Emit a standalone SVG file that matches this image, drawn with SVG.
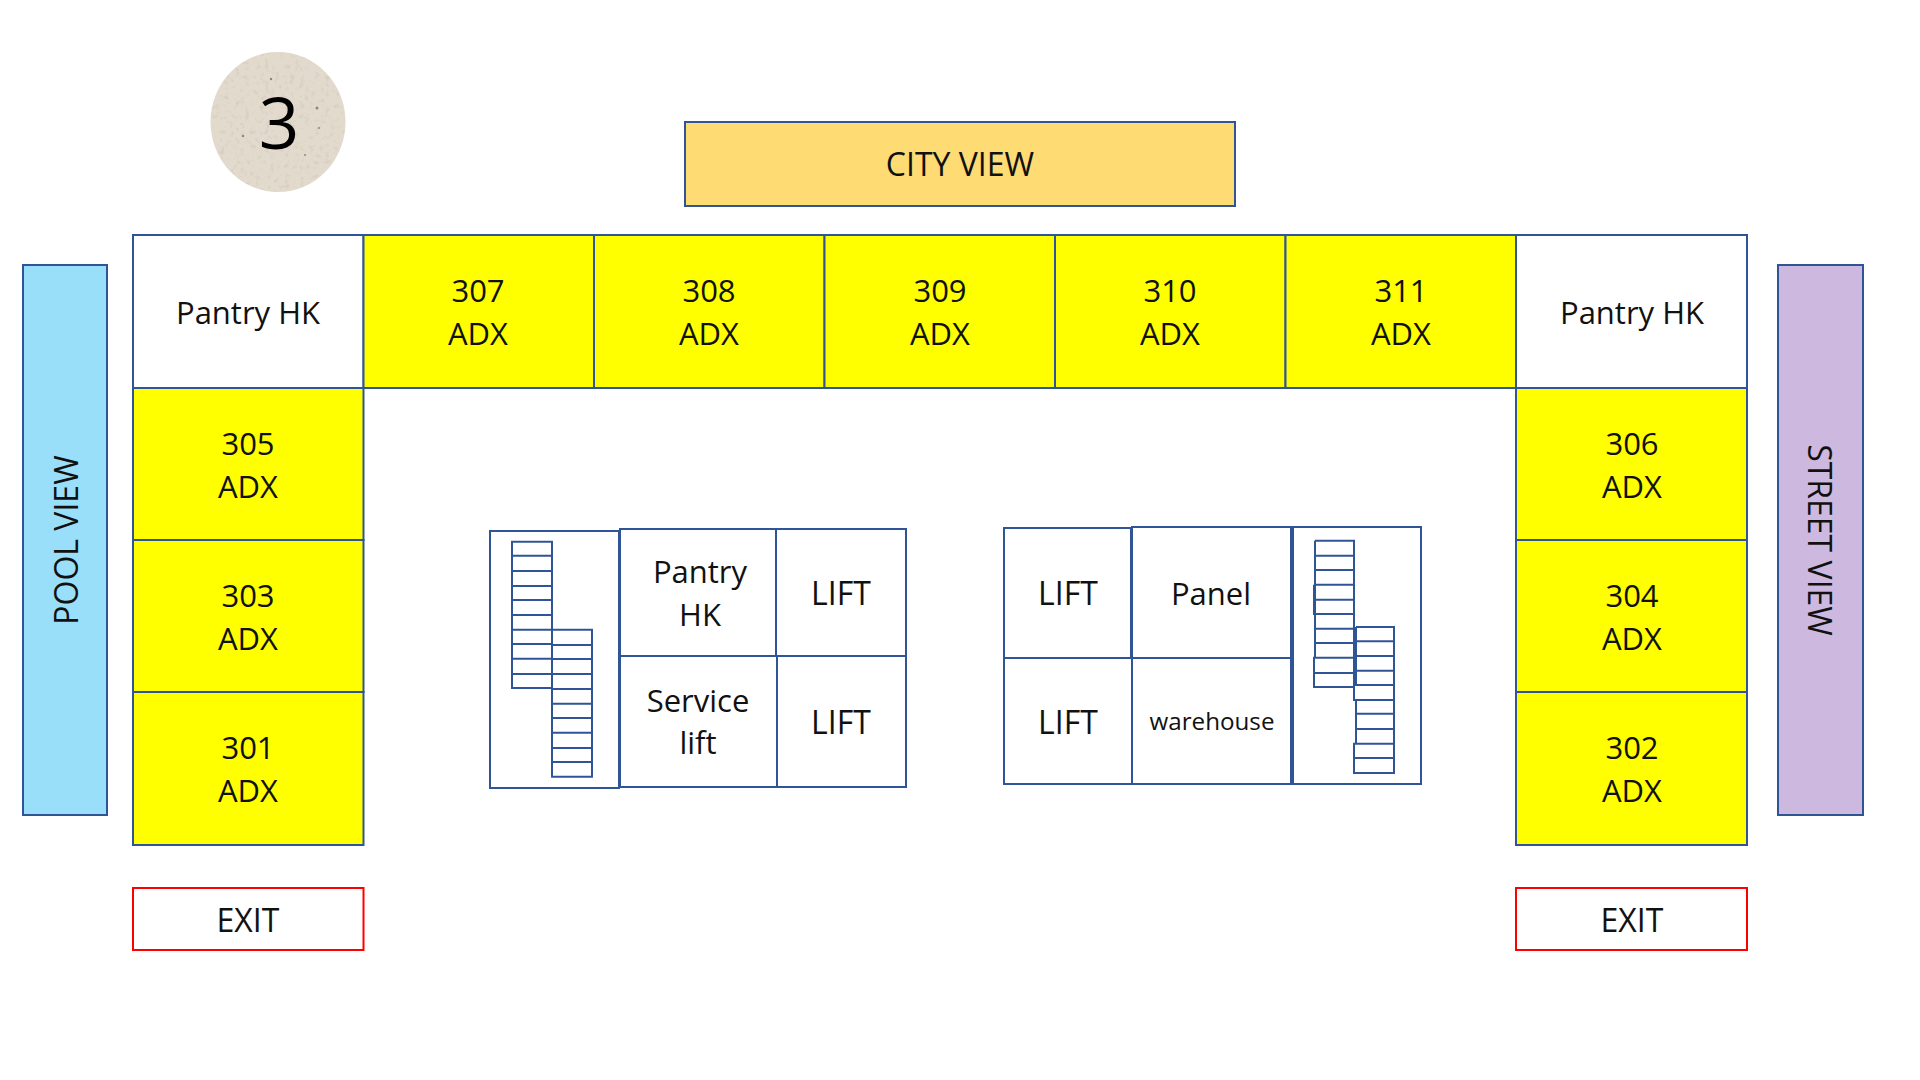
<svg xmlns="http://www.w3.org/2000/svg" width="1920" height="1080" viewBox="0 0 1920 1080">
<style>
rect{stroke:#2f5597;stroke-width:2;fill:#fff}
.y{fill:#ff0}
.x{stroke:#f00}
.s{fill:none;stroke:#2f5597;stroke-width:2}
text{font-family:"Open Sans",Lato,"Liberation Sans",sans-serif;font-size:31px;fill:#111;text-anchor:middle}
.c{font-size:32px}
.d{fill:#8f8778}
</style>
<defs>
<filter id="grain" x="0" y="0" width="100%" height="100%"><feTurbulence type="fractalNoise" baseFrequency="0.2" numOctaves="3" seed="4"/><feColorMatrix values="0 0 0 0 0.55 0 0 0 0 0.5 0 0 0 0 0.42 1.4 0 0 0 -0.75"/><feComposite in2="SourceGraphic" operator="in"/><feMerge><feMergeNode in="SourceGraphic"/><feMergeNode/></feMerge></filter>
</defs>
<g id="floor-badge"><ellipse cx="278" cy="122" rx="67.500" ry="70" fill="#e2dacc" filter="url(#grain)"/><circle class="d" cx="317" cy="108" r="1.500"/><circle class="d" cx="271" cy="79" r="1.200"/><circle class="d" cx="243" cy="136" r="1.200"/><circle class="d" cx="305" cy="155" r="1"/><circle class="d" cx="319" cy="128" r="1"/><text x="279" y="149" style="font-size:71px;fill:#000">3</text></g>
<g id="city-view"><rect x="685" y="122" width="550" height="84" style="fill:#ffdb74"/><text class="c" x="960" y="176">CITY VIEW</text></g>
<g id="pool-view"><rect x="23" y="265" width="84" height="550" style="fill:#99dff9"/><text class="c" transform="translate(78 540) rotate(-90)">POOL VIEW</text></g>
<g id="street-view"><rect x="1778" y="265" width="85" height="550" style="fill:#cdb8df"/><text class="c" transform="translate(1808 540) rotate(90)">STREET VIEW</text></g>
<g id="pantry-left"><rect x="133" y="235" width="230.500" height="153"/><text x="248" y="324">Pantry HK</text></g>
<g id="room-307"><rect class="y" x="363.500" y="235" width="230.500" height="153"/><text x="478" y="302">307</text><text x="478" y="345">ADX</text></g>
<g id="room-308"><rect class="y" x="594" y="235" width="230.500" height="153"/><text x="709" y="302">308</text><text x="709" y="345">ADX</text></g>
<g id="room-309"><rect class="y" x="824.500" y="235" width="230.500" height="153"/><text x="940" y="302">309</text><text x="940" y="345">ADX</text></g>
<g id="room-310"><rect class="y" x="1055" y="235" width="230.500" height="153"/><text x="1170" y="302">310</text><text x="1170" y="345">ADX</text></g>
<g id="room-311"><rect class="y" x="1285.500" y="235" width="230.500" height="153"/><text x="1401" y="302">311</text><text x="1401" y="345">ADX</text></g>
<g id="pantry-right"><rect x="1516" y="235" width="231" height="153"/><text x="1632" y="324">Pantry HK</text></g>
<g id="room-305"><rect class="y" x="133" y="388" width="230.500" height="152"/><text x="248" y="455">305</text><text x="248" y="498">ADX</text></g>
<g id="room-303"><rect class="y" x="133" y="540" width="230.500" height="152"/><text x="248" y="607">303</text><text x="248" y="650">ADX</text></g>
<g id="room-301"><rect class="y" x="133" y="692" width="230.500" height="153"/><text x="248" y="759">301</text><text x="248" y="802">ADX</text></g>
<g id="room-306"><rect class="y" x="1516" y="388" width="231" height="152"/><text x="1632" y="455">306</text><text x="1632" y="498">ADX</text></g>
<g id="room-304"><rect class="y" x="1516" y="540" width="231" height="152"/><text x="1632" y="607">304</text><text x="1632" y="650">ADX</text></g>
<g id="room-302"><rect class="y" x="1516" y="692" width="231" height="153"/><text x="1632" y="759">302</text><text x="1632" y="802">ADX</text></g>
<g id="exit-left"><rect class="x" x="133" y="888" width="230.500" height="62"/><text class="c" x="248" y="932">EXIT</text></g>
<g id="exit-right"><rect class="x" x="1516" y="888" width="231" height="62"/><text class="c" x="1632" y="932">EXIT</text></g>
<g id="stair-left"><rect x="490" y="531" width="129" height="257"/>
<path class="s" d="M512 541.700H552V688H512ZM512 555.700H552M512 571H552M512 586H552M512 600H552M512 615H552M512 629.700H552M512 644H552M512 658.700H552M512 674H552M552 629.700H592V776.700H552ZM552 645H592M552 659H592M552 674H592M552 689H592M552 703.700H592M552 718H592M552 732.700H592M552 748H592M552 762H592"/></g>
<g id="pantry-core"><rect x="620" y="529" width="156" height="127"/><text x="700" y="583">Pantry</text><text x="700" y="626">HK</text></g>
<g id="lift-a"><rect x="776" y="529" width="130" height="127"/><text class="c" x="841" y="605">LIFT</text></g>
<g id="service-lift"><rect x="620" y="656" width="157" height="131"/><text x="698" y="712">Service</text><text x="698" y="754">lift</text></g>
<g id="lift-b"><rect x="777" y="656" width="129" height="131"/><text class="c" x="841" y="734">LIFT</text></g>
<g id="lift-c"><rect x="1004" y="528" width="127" height="130"/><text class="c" x="1068" y="605">LIFT</text></g>
<g id="panel"><rect x="1132" y="527" width="159" height="131"/><text x="1211" y="605">Panel</text></g>
<g id="lift-d"><rect x="1004" y="658" width="128" height="126"/><text class="c" x="1068" y="734">LIFT</text></g>
<g id="warehouse"><rect x="1132" y="658" width="159" height="126"/><text x="1212" y="730" style="font-size:24.200px">warehouse</text></g>
<g id="stair-right"><rect x="1293" y="527" width="128" height="257"/>
<path class="s" d="M1315 540.700H1354V687H1314V657.700H1354M1315 555.700H1354M1315 570H1354M1314 584.700H1354M1314 584.700V614H1354M1314 599.700H1354M1315 540.700V657.700M1315 628.700H1354M1315 643H1354M1314 673H1354M1356 627H1394V773H1354V743.700H1394M1356 627V685M1356 641.300H1394M1356 656H1394M1356 670.700H1394M1354 685H1394V700H1354ZM1356 700V743.700M1356 713.700H1394M1356 729H1394M1354 758H1394"/></g>
</svg>
